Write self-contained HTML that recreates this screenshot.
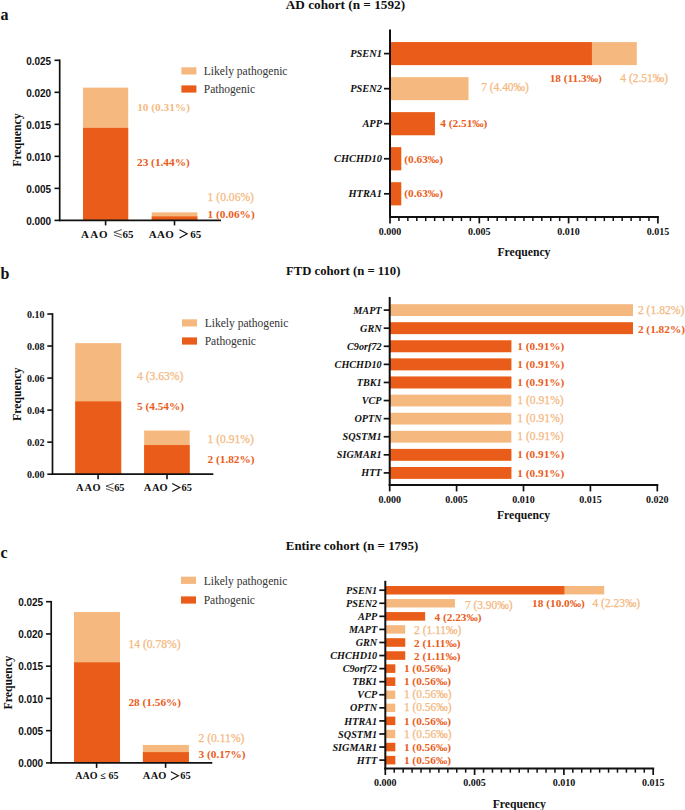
<!DOCTYPE html>
<html><head><meta charset="utf-8"><title>Figure</title>
<style>
html,body{margin:0;padding:0;background:#fff;width:685px;height:810px;overflow:hidden;}
svg{display:block;}
</style></head><body>
<svg width="685" height="810" viewBox="0 0 685 810">
<rect x="0" y="0" width="685" height="810" fill="#fff"/>
<text x="0.40" y="19.60" font-family='"Liberation Serif", serif' font-size="16" font-weight="bold" font-style="normal" text-anchor="start" fill="#111" >a</text>
<text x="0.40" y="278.70" font-family='"Liberation Serif", serif' font-size="16" font-weight="bold" font-style="normal" text-anchor="start" fill="#111" >b</text>
<text x="0.40" y="557.70" font-family='"Liberation Serif", serif' font-size="16" font-weight="bold" font-style="normal" text-anchor="start" fill="#111" >c</text>
<text x="285.70" y="9.30" font-family='"Liberation Serif", serif' font-size="13.25" font-weight="bold" font-style="normal" text-anchor="start" fill="#111" >AD cohort (n = 1592)</text>
<text x="286.00" y="274.90" font-family='"Liberation Serif", serif' font-size="12.7" font-weight="bold" font-style="normal" text-anchor="start" fill="#111" >FTD cohort (n = 110)</text>
<text x="285.80" y="550.00" font-family='"Liberation Serif", serif' font-size="12.9" font-weight="bold" font-style="normal" text-anchor="start" fill="#111" >Entire cohort (n = 1795)</text>
<rect x="83.00" y="87.65" width="45.20" height="132.75" fill="#F5B97F"/>
<rect x="83.00" y="127.88" width="45.20" height="92.52" fill="#EA5C19"/>
<rect x="151.70" y="212.35" width="45.70" height="8.05" fill="#F5B97F"/>
<rect x="151.70" y="216.38" width="45.70" height="4.02" fill="#EA5C19"/>
<line x1="59.70" y1="59.50" x2="59.70" y2="221.20" stroke="#111" stroke-width="1.7"/>
<line x1="58.90" y1="220.40" x2="221.00" y2="220.40" stroke="#111" stroke-width="1.7"/>
<line x1="54.50" y1="220.40" x2="59.70" y2="220.40" stroke="#111" stroke-width="1.6"/>
<text x="51.20" y="224.80" font-family='"Liberation Sans", sans-serif' font-size="10.0" font-weight="bold" font-style="normal" text-anchor="end" fill="#111" >0.000</text>
<line x1="54.50" y1="188.38" x2="59.70" y2="188.38" stroke="#111" stroke-width="1.6"/>
<text x="51.20" y="192.78" font-family='"Liberation Sans", sans-serif' font-size="10.0" font-weight="bold" font-style="normal" text-anchor="end" fill="#111" >0.005</text>
<line x1="54.50" y1="156.36" x2="59.70" y2="156.36" stroke="#111" stroke-width="1.6"/>
<text x="51.20" y="160.76" font-family='"Liberation Sans", sans-serif' font-size="10.0" font-weight="bold" font-style="normal" text-anchor="end" fill="#111" >0.010</text>
<line x1="54.50" y1="124.34" x2="59.70" y2="124.34" stroke="#111" stroke-width="1.6"/>
<text x="51.20" y="128.74" font-family='"Liberation Sans", sans-serif' font-size="10.0" font-weight="bold" font-style="normal" text-anchor="end" fill="#111" >0.015</text>
<line x1="54.50" y1="92.32" x2="59.70" y2="92.32" stroke="#111" stroke-width="1.6"/>
<text x="51.20" y="96.72" font-family='"Liberation Sans", sans-serif' font-size="10.0" font-weight="bold" font-style="normal" text-anchor="end" fill="#111" >0.020</text>
<line x1="54.50" y1="60.30" x2="59.70" y2="60.30" stroke="#111" stroke-width="1.6"/>
<text x="51.20" y="64.70" font-family='"Liberation Sans", sans-serif' font-size="10.0" font-weight="bold" font-style="normal" text-anchor="end" fill="#111" >0.025</text>
<line x1="105.60" y1="220.40" x2="105.60" y2="225.40" stroke="#111" stroke-width="1.6"/>
<line x1="174.50" y1="220.40" x2="174.50" y2="225.40" stroke="#111" stroke-width="1.6"/>
<text x="0" y="0" font-family='"Liberation Serif", serif' font-size="11.8" font-weight="bold" text-anchor="middle" fill="#111" transform="translate(20.80,140.00) rotate(-90)">Frequency</text>
<rect x="181.40" y="67.30" width="15.00" height="7.20" fill="#F5B97F"/>
<rect x="181.40" y="85.40" width="15.00" height="7.20" fill="#EA5C19"/>
<text x="203.80" y="74.70" font-family='"Liberation Serif", serif' font-size="11.55" font-weight="normal" font-style="normal" text-anchor="start" fill="#333" >Likely pathogenic</text>
<text x="203.80" y="92.80" font-family='"Liberation Serif", serif' font-size="11.55" font-weight="normal" font-style="normal" text-anchor="start" fill="#333" >Pathogenic</text>
<text x="137.20" y="110.80" font-family='"Liberation Serif", serif' font-size="11.3" font-weight="bold" font-style="normal" text-anchor="start" fill="#F5B97F" >10 (0.31%)</text>
<text x="137.00" y="166.00" font-family='"Liberation Serif", serif' font-size="11.3" font-weight="bold" font-style="normal" text-anchor="start" fill="#EA5C19" >23 (1.44%)</text>
<text x="207.60" y="201.00" font-family='"Liberation Serif", serif' font-size="11.600000000000001" font-weight="normal" font-style="normal" text-anchor="start" fill="#F5B97F" stroke="#F5B97F" stroke-width="0.25">1 (0.06%)</text>
<text x="207.60" y="217.50" font-family='"Liberation Serif", serif' font-size="11.3" font-weight="bold" font-style="normal" text-anchor="start" fill="#EA5C19" >1 (0.06%)</text>
<text x="0.00" y="237.80" font-family='"Liberation Serif", serif' font-size="11.0" font-weight="bold" font-style="normal" text-anchor="start" fill="#111" ><tspan x="80.89">A</tspan><tspan x="90.29">A</tspan><tspan x="98.96">O</tspan><tspan x="122.43">65</tspan></text>
<path d="M121.80,229.60 L113.90,232.24 L121.80,235.04 M113.90,234.96 L121.80,237.60" fill="none" stroke="#333" stroke-width="0.85" stroke-linecap="butt" stroke-linejoin="miter"/>
<text x="0.00" y="237.80" font-family='"Liberation Serif", serif' font-size="11.0" font-weight="bold" font-style="normal" text-anchor="start" fill="#111" ><tspan x="148.69">A</tspan><tspan x="157.09">A</tspan><tspan x="165.36">O</tspan><tspan x="190.33">65</tspan></text>
<path d="M179.50,229.70 L187.20,233.80 L179.50,237.90" fill="none" stroke="#111" stroke-width="1.15" stroke-linecap="butt" stroke-linejoin="miter"/>
<rect x="75.20" y="343.13" width="46.00" height="131.07" fill="#F5B97F"/>
<rect x="75.20" y="401.38" width="46.00" height="72.82" fill="#EA5C19"/>
<rect x="144.10" y="430.51" width="45.60" height="43.69" fill="#F5B97F"/>
<rect x="144.10" y="445.07" width="45.60" height="29.13" fill="#EA5C19"/>
<line x1="52.50" y1="313.20" x2="52.50" y2="475.00" stroke="#111" stroke-width="1.7"/>
<line x1="51.70" y1="474.20" x2="213.30" y2="474.20" stroke="#111" stroke-width="1.7"/>
<line x1="47.30" y1="474.20" x2="52.50" y2="474.20" stroke="#111" stroke-width="1.6"/>
<text x="44.60" y="478.00" font-family='"Liberation Serif", serif' font-size="10" font-weight="bold" font-style="normal" text-anchor="end" fill="#111" >0.00</text>
<line x1="47.30" y1="442.16" x2="52.50" y2="442.16" stroke="#111" stroke-width="1.6"/>
<text x="44.60" y="445.96" font-family='"Liberation Serif", serif' font-size="10" font-weight="bold" font-style="normal" text-anchor="end" fill="#111" >0.02</text>
<line x1="47.30" y1="410.12" x2="52.50" y2="410.12" stroke="#111" stroke-width="1.6"/>
<text x="44.60" y="413.92" font-family='"Liberation Serif", serif' font-size="10" font-weight="bold" font-style="normal" text-anchor="end" fill="#111" >0.04</text>
<line x1="47.30" y1="378.08" x2="52.50" y2="378.08" stroke="#111" stroke-width="1.6"/>
<text x="44.60" y="381.88" font-family='"Liberation Serif", serif' font-size="10" font-weight="bold" font-style="normal" text-anchor="end" fill="#111" >0.06</text>
<line x1="47.30" y1="346.04" x2="52.50" y2="346.04" stroke="#111" stroke-width="1.6"/>
<text x="44.60" y="349.84" font-family='"Liberation Serif", serif' font-size="10" font-weight="bold" font-style="normal" text-anchor="end" fill="#111" >0.08</text>
<line x1="47.30" y1="314.00" x2="52.50" y2="314.00" stroke="#111" stroke-width="1.6"/>
<text x="44.60" y="317.80" font-family='"Liberation Serif", serif' font-size="10" font-weight="bold" font-style="normal" text-anchor="end" fill="#111" >0.10</text>
<line x1="98.10" y1="474.20" x2="98.10" y2="479.20" stroke="#111" stroke-width="1.6"/>
<line x1="167.00" y1="474.20" x2="167.00" y2="479.20" stroke="#111" stroke-width="1.6"/>
<text x="0" y="0" font-family='"Liberation Serif", serif' font-size="11.8" font-weight="bold" text-anchor="middle" fill="#111" transform="translate(20.90,394.30) rotate(-90)">Frequency</text>
<rect x="182.00" y="319.30" width="15.00" height="7.20" fill="#F5B97F"/>
<rect x="182.00" y="337.40" width="15.00" height="7.20" fill="#EA5C19"/>
<text x="204.70" y="326.90" font-family='"Liberation Serif", serif' font-size="11.55" font-weight="normal" font-style="normal" text-anchor="start" fill="#333" >Likely pathogenic</text>
<text x="204.70" y="345.00" font-family='"Liberation Serif", serif' font-size="11.55" font-weight="normal" font-style="normal" text-anchor="start" fill="#333" >Pathogenic</text>
<text x="137.00" y="380.10" font-family='"Liberation Serif", serif' font-size="11.600000000000001" font-weight="normal" font-style="normal" text-anchor="start" fill="#F5B97F" stroke="#F5B97F" stroke-width="0.25">4 (3.63%)</text>
<text x="137.00" y="410.30" font-family='"Liberation Serif", serif' font-size="11.3" font-weight="bold" font-style="normal" text-anchor="start" fill="#EA5C19" >5 (4.54%)</text>
<text x="207.50" y="442.90" font-family='"Liberation Serif", serif' font-size="11.600000000000001" font-weight="normal" font-style="normal" text-anchor="start" fill="#F5B97F" stroke="#F5B97F" stroke-width="0.25">1 (0.91%)</text>
<text x="207.50" y="462.80" font-family='"Liberation Serif", serif' font-size="11.3" font-weight="bold" font-style="normal" text-anchor="start" fill="#EA5C19" >2 (1.82%)</text>
<text x="0.00" y="490.90" font-family='"Liberation Serif", serif' font-size="10.4" font-weight="bold" font-style="normal" text-anchor="start" fill="#111" ><tspan x="76.00">A</tspan><tspan x="84.60">A</tspan><tspan x="92.59">O</tspan><tspan x="114.15">65</tspan></text>
<path d="M113.60,483.50 L106.00,486.07 L113.60,488.80 M106.00,488.73 L113.60,491.30" fill="none" stroke="#333" stroke-width="0.85" stroke-linecap="butt" stroke-linejoin="miter"/>
<text x="0.00" y="490.90" font-family='"Liberation Serif", serif' font-size="10.4" font-weight="bold" font-style="normal" text-anchor="start" fill="#111" ><tspan x="143.70">A</tspan><tspan x="151.90">A</tspan><tspan x="159.39">O</tspan><tspan x="181.55">65</tspan></text>
<path d="M172.20,483.50 L179.80,487.50 L172.20,491.50" fill="none" stroke="#111" stroke-width="1.15" stroke-linecap="butt" stroke-linejoin="miter"/>
<rect x="74.00" y="612.03" width="46.00" height="150.87" fill="#F5B97F"/>
<rect x="74.00" y="662.32" width="46.00" height="100.58" fill="#EA5C19"/>
<rect x="142.90" y="744.94" width="46.00" height="17.96" fill="#F5B97F"/>
<rect x="142.90" y="752.12" width="46.00" height="10.78" fill="#EA5C19"/>
<line x1="51.20" y1="600.90" x2="51.20" y2="763.70" stroke="#111" stroke-width="1.7"/>
<line x1="50.40" y1="762.90" x2="212.30" y2="762.90" stroke="#111" stroke-width="1.7"/>
<line x1="46.00" y1="762.90" x2="51.20" y2="762.90" stroke="#111" stroke-width="1.6"/>
<text x="43.20" y="767.20" font-family='"Liberation Sans", sans-serif' font-size="10.0" font-weight="bold" font-style="normal" text-anchor="end" fill="#111" >0.000</text>
<line x1="46.00" y1="730.66" x2="51.20" y2="730.66" stroke="#111" stroke-width="1.6"/>
<text x="43.20" y="734.96" font-family='"Liberation Sans", sans-serif' font-size="10.0" font-weight="bold" font-style="normal" text-anchor="end" fill="#111" >0.005</text>
<line x1="46.00" y1="698.42" x2="51.20" y2="698.42" stroke="#111" stroke-width="1.6"/>
<text x="43.20" y="702.72" font-family='"Liberation Sans", sans-serif' font-size="10.0" font-weight="bold" font-style="normal" text-anchor="end" fill="#111" >0.010</text>
<line x1="46.00" y1="666.18" x2="51.20" y2="666.18" stroke="#111" stroke-width="1.6"/>
<text x="43.20" y="670.48" font-family='"Liberation Sans", sans-serif' font-size="10.0" font-weight="bold" font-style="normal" text-anchor="end" fill="#111" >0.015</text>
<line x1="46.00" y1="633.94" x2="51.20" y2="633.94" stroke="#111" stroke-width="1.6"/>
<text x="43.20" y="638.24" font-family='"Liberation Sans", sans-serif' font-size="10.0" font-weight="bold" font-style="normal" text-anchor="end" fill="#111" >0.020</text>
<line x1="46.00" y1="601.70" x2="51.20" y2="601.70" stroke="#111" stroke-width="1.6"/>
<text x="43.20" y="606.00" font-family='"Liberation Sans", sans-serif' font-size="10.0" font-weight="bold" font-style="normal" text-anchor="end" fill="#111" >0.025</text>
<line x1="96.60" y1="762.90" x2="96.60" y2="767.90" stroke="#111" stroke-width="1.6"/>
<line x1="165.60" y1="762.90" x2="165.60" y2="767.90" stroke="#111" stroke-width="1.6"/>
<text x="0" y="0" font-family='"Liberation Serif", serif' font-size="11.8" font-weight="bold" text-anchor="middle" fill="#111" transform="translate(11.50,682.70) rotate(-90)">Frequency</text>
<rect x="181.00" y="576.70" width="15.00" height="7.20" fill="#F5B97F"/>
<rect x="181.00" y="596.40" width="15.00" height="7.20" fill="#EA5C19"/>
<text x="203.70" y="584.70" font-family='"Liberation Serif", serif' font-size="11.55" font-weight="normal" font-style="normal" text-anchor="start" fill="#333" >Likely pathogenic</text>
<text x="203.70" y="604.40" font-family='"Liberation Serif", serif' font-size="11.55" font-weight="normal" font-style="normal" text-anchor="start" fill="#333" >Pathogenic</text>
<text x="128.40" y="648.30" font-family='"Liberation Serif", serif' font-size="11.600000000000001" font-weight="normal" font-style="normal" text-anchor="start" fill="#F5B97F" stroke="#F5B97F" stroke-width="0.25">14 (0.78%)</text>
<text x="128.40" y="706.00" font-family='"Liberation Serif", serif' font-size="11.3" font-weight="bold" font-style="normal" text-anchor="start" fill="#EA5C19" >28 (1.56%)</text>
<text x="198.50" y="742.40" font-family='"Liberation Serif", serif' font-size="11.600000000000001" font-weight="normal" font-style="normal" text-anchor="start" fill="#F5B97F" stroke="#F5B97F" stroke-width="0.25">2 (0.11%)</text>
<text x="198.50" y="757.90" font-family='"Liberation Serif", serif' font-size="11.3" font-weight="bold" font-style="normal" text-anchor="start" fill="#EA5C19" >3 (0.17%)</text>
<text x="75.30" y="778.90" font-family='"Liberation Serif", serif' font-size="10.0" font-weight="bold" font-style="normal" text-anchor="start" fill="#111" >AAO</text>
<text x="100.30" y="778.90" font-family='"Liberation Serif", serif' font-size="10.0" font-weight="bold" font-style="normal" text-anchor="start" fill="#111" >≤</text>
<text x="108.40" y="778.90" font-family='"Liberation Serif", serif' font-size="10.0" font-weight="bold" font-style="normal" text-anchor="start" fill="#111" >65</text>
<text x="0.00" y="779.00" font-family='"Liberation Serif", serif' font-size="10.4" font-weight="bold" font-style="normal" text-anchor="start" fill="#111" ><tspan x="142.80">A</tspan><tspan x="150.70">A</tspan><tspan x="158.19">O</tspan><tspan x="180.35">65</tspan></text>
<path d="M170.90,771.80 L178.40,775.80 L170.90,779.80" fill="none" stroke="#111" stroke-width="1.15" stroke-linecap="butt" stroke-linejoin="miter"/>
<rect x="390.00" y="42.10" width="246.81" height="23.00" fill="#F5B97F"/>
<rect x="390.00" y="42.10" width="201.93" height="23.00" fill="#EA5C19"/>
<line x1="384.00" y1="53.60" x2="390.00" y2="53.60" stroke="#111" stroke-width="1.7"/>
<text x="382.00" y="57.10" font-family='"Liberation Serif", serif' font-size="10.4" font-weight="bold" font-style="italic" text-anchor="end" fill="#111" >PSEN1</text>
<text x="549.70" y="82.00" font-family='"Liberation Serif", serif' font-size="11.3" font-weight="bold" font-style="normal" text-anchor="start" fill="#EA5C19" >18 (11.3‰)</text>
<text x="620.30" y="82.00" font-family='"Liberation Serif", serif' font-size="11.450000000000001" font-weight="normal" font-style="normal" text-anchor="start" fill="#F5B97F" stroke="#F5B97F" stroke-width="0.25">4 (2.51‰)</text>
<rect x="390.00" y="77.15" width="78.53" height="23.00" fill="#F5B97F"/>
<line x1="384.00" y1="88.65" x2="390.00" y2="88.65" stroke="#111" stroke-width="1.7"/>
<text x="382.00" y="92.15" font-family='"Liberation Serif", serif' font-size="10.4" font-weight="bold" font-style="italic" text-anchor="end" fill="#111" >PSEN2</text>
<text x="481.20" y="91.45" font-family='"Liberation Serif", serif' font-size="11.450000000000001" font-weight="normal" font-style="normal" text-anchor="start" fill="#F5B97F" stroke="#F5B97F" stroke-width="0.25">7 (4.40‰)</text>
<rect x="390.00" y="112.20" width="44.87" height="23.00" fill="#F5B97F"/>
<rect x="390.00" y="112.20" width="44.87" height="23.00" fill="#EA5C19"/>
<line x1="384.00" y1="123.70" x2="390.00" y2="123.70" stroke="#111" stroke-width="1.7"/>
<text x="382.00" y="127.20" font-family='"Liberation Serif", serif' font-size="10.4" font-weight="bold" font-style="italic" text-anchor="end" fill="#111" >APP</text>
<text x="440.30" y="127.20" font-family='"Liberation Serif", serif' font-size="11.3" font-weight="bold" font-style="normal" text-anchor="start" fill="#EA5C19" >4 (2.51‰)</text>
<rect x="390.00" y="147.25" width="11.22" height="23.00" fill="#F5B97F"/>
<rect x="390.00" y="147.25" width="11.22" height="23.00" fill="#EA5C19"/>
<line x1="384.00" y1="158.75" x2="390.00" y2="158.75" stroke="#111" stroke-width="1.7"/>
<text x="382.00" y="162.25" font-family='"Liberation Serif", serif' font-size="10.4" font-weight="bold" font-style="italic" text-anchor="end" fill="#111" >CHCHD10</text>
<text x="404.30" y="162.55" font-family='"Liberation Serif", serif' font-size="11.3" font-weight="bold" font-style="normal" text-anchor="start" fill="#EA5C19" >(0.63‰)</text>
<rect x="390.00" y="182.30" width="11.22" height="23.00" fill="#F5B97F"/>
<rect x="390.00" y="182.30" width="11.22" height="23.00" fill="#EA5C19"/>
<line x1="384.00" y1="193.80" x2="390.00" y2="193.80" stroke="#111" stroke-width="1.7"/>
<text x="382.00" y="197.30" font-family='"Liberation Serif", serif' font-size="10.4" font-weight="bold" font-style="italic" text-anchor="end" fill="#111" >HTRA1</text>
<text x="404.30" y="197.30" font-family='"Liberation Serif", serif' font-size="11.3" font-weight="bold" font-style="normal" text-anchor="start" fill="#EA5C19" >(0.63‰)</text>
<line x1="390.00" y1="29.50" x2="390.00" y2="217.90" stroke="#111" stroke-width="2.0"/>
<line x1="389.00" y1="216.90" x2="658.90" y2="216.90" stroke="#111" stroke-width="2.0"/>
<line x1="390.00" y1="216.90" x2="390.00" y2="223.40" stroke="#111" stroke-width="1.7"/>
<text x="390.00" y="235.20" font-family='"Liberation Serif", serif' font-size="10" font-weight="bold" font-style="normal" text-anchor="middle" fill="#111" >0.000</text>
<line x1="479.30" y1="216.90" x2="479.30" y2="223.40" stroke="#111" stroke-width="1.7"/>
<text x="479.30" y="235.20" font-family='"Liberation Serif", serif' font-size="10" font-weight="bold" font-style="normal" text-anchor="middle" fill="#111" >0.005</text>
<line x1="568.60" y1="216.90" x2="568.60" y2="223.40" stroke="#111" stroke-width="1.7"/>
<text x="568.60" y="235.20" font-family='"Liberation Serif", serif' font-size="10" font-weight="bold" font-style="normal" text-anchor="middle" fill="#111" >0.010</text>
<line x1="657.90" y1="216.90" x2="657.90" y2="223.40" stroke="#111" stroke-width="1.7"/>
<text x="657.90" y="235.20" font-family='"Liberation Serif", serif' font-size="10" font-weight="bold" font-style="normal" text-anchor="middle" fill="#111" >0.015</text>
<line x1="398.93" y1="216.90" x2="398.93" y2="221.10" stroke="#111" stroke-width="1.5"/>
<line x1="407.86" y1="216.90" x2="407.86" y2="221.10" stroke="#111" stroke-width="1.5"/>
<line x1="416.79" y1="216.90" x2="416.79" y2="221.10" stroke="#111" stroke-width="1.5"/>
<line x1="425.72" y1="216.90" x2="425.72" y2="221.10" stroke="#111" stroke-width="1.5"/>
<line x1="434.65" y1="216.90" x2="434.65" y2="221.10" stroke="#111" stroke-width="1.5"/>
<line x1="443.58" y1="216.90" x2="443.58" y2="221.10" stroke="#111" stroke-width="1.5"/>
<line x1="452.51" y1="216.90" x2="452.51" y2="221.10" stroke="#111" stroke-width="1.5"/>
<line x1="461.44" y1="216.90" x2="461.44" y2="221.10" stroke="#111" stroke-width="1.5"/>
<line x1="470.37" y1="216.90" x2="470.37" y2="221.10" stroke="#111" stroke-width="1.5"/>
<line x1="488.23" y1="216.90" x2="488.23" y2="221.10" stroke="#111" stroke-width="1.5"/>
<line x1="497.16" y1="216.90" x2="497.16" y2="221.10" stroke="#111" stroke-width="1.5"/>
<line x1="506.09" y1="216.90" x2="506.09" y2="221.10" stroke="#111" stroke-width="1.5"/>
<line x1="515.02" y1="216.90" x2="515.02" y2="221.10" stroke="#111" stroke-width="1.5"/>
<line x1="523.95" y1="216.90" x2="523.95" y2="221.10" stroke="#111" stroke-width="1.5"/>
<line x1="532.88" y1="216.90" x2="532.88" y2="221.10" stroke="#111" stroke-width="1.5"/>
<line x1="541.81" y1="216.90" x2="541.81" y2="221.10" stroke="#111" stroke-width="1.5"/>
<line x1="550.74" y1="216.90" x2="550.74" y2="221.10" stroke="#111" stroke-width="1.5"/>
<line x1="559.67" y1="216.90" x2="559.67" y2="221.10" stroke="#111" stroke-width="1.5"/>
<line x1="577.53" y1="216.90" x2="577.53" y2="221.10" stroke="#111" stroke-width="1.5"/>
<line x1="586.46" y1="216.90" x2="586.46" y2="221.10" stroke="#111" stroke-width="1.5"/>
<line x1="595.39" y1="216.90" x2="595.39" y2="221.10" stroke="#111" stroke-width="1.5"/>
<line x1="604.32" y1="216.90" x2="604.32" y2="221.10" stroke="#111" stroke-width="1.5"/>
<line x1="613.25" y1="216.90" x2="613.25" y2="221.10" stroke="#111" stroke-width="1.5"/>
<line x1="622.18" y1="216.90" x2="622.18" y2="221.10" stroke="#111" stroke-width="1.5"/>
<line x1="631.11" y1="216.90" x2="631.11" y2="221.10" stroke="#111" stroke-width="1.5"/>
<line x1="640.04" y1="216.90" x2="640.04" y2="221.10" stroke="#111" stroke-width="1.5"/>
<line x1="648.97" y1="216.90" x2="648.97" y2="221.10" stroke="#111" stroke-width="1.5"/>
<text x="523.95" y="255.80" font-family='"Liberation Serif", serif' font-size="11.7" font-weight="bold" font-style="normal" text-anchor="middle" fill="#111" >Frequency</text>
<rect x="389.70" y="304.20" width="243.27" height="11.80" fill="#F5B97F"/>
<line x1="383.70" y1="310.10" x2="389.70" y2="310.10" stroke="#111" stroke-width="1.7"/>
<text x="381.60" y="313.60" font-family='"Liberation Serif", serif' font-size="10.2" font-weight="bold" font-style="italic" text-anchor="end" fill="#111" >MAPT</text>
<text x="637.90" y="314.20" font-family='"Liberation Serif", serif' font-size="11.600000000000001" font-weight="normal" font-style="normal" text-anchor="start" fill="#F5B97F" stroke="#F5B97F" stroke-width="0.25">2 (1.82%)</text>
<rect x="389.70" y="322.29" width="243.27" height="11.80" fill="#F5B97F"/>
<rect x="389.70" y="322.29" width="243.27" height="11.80" fill="#EA5C19"/>
<line x1="383.70" y1="328.19" x2="389.70" y2="328.19" stroke="#111" stroke-width="1.7"/>
<text x="381.60" y="331.69" font-family='"Liberation Serif", serif' font-size="10.2" font-weight="bold" font-style="italic" text-anchor="end" fill="#111" >GRN</text>
<text x="637.90" y="332.69" font-family='"Liberation Serif", serif' font-size="11.3" font-weight="bold" font-style="normal" text-anchor="start" fill="#EA5C19" >2 (1.82%)</text>
<rect x="389.70" y="340.38" width="121.64" height="11.80" fill="#F5B97F"/>
<rect x="389.70" y="340.38" width="121.64" height="11.80" fill="#EA5C19"/>
<line x1="383.70" y1="346.28" x2="389.70" y2="346.28" stroke="#111" stroke-width="1.7"/>
<text x="381.60" y="349.78" font-family='"Liberation Serif", serif' font-size="10.2" font-weight="bold" font-style="italic" text-anchor="end" fill="#111" >C9orf72</text>
<text x="517.30" y="349.88" font-family='"Liberation Serif", serif' font-size="11.3" font-weight="bold" font-style="normal" text-anchor="start" fill="#EA5C19" >1 (0.91%)</text>
<rect x="389.70" y="358.47" width="121.64" height="11.80" fill="#F5B97F"/>
<rect x="389.70" y="358.47" width="121.64" height="11.80" fill="#EA5C19"/>
<line x1="383.70" y1="364.37" x2="389.70" y2="364.37" stroke="#111" stroke-width="1.7"/>
<text x="381.60" y="367.87" font-family='"Liberation Serif", serif' font-size="10.2" font-weight="bold" font-style="italic" text-anchor="end" fill="#111" >CHCHD10</text>
<text x="517.30" y="367.97" font-family='"Liberation Serif", serif' font-size="11.3" font-weight="bold" font-style="normal" text-anchor="start" fill="#EA5C19" >1 (0.91%)</text>
<rect x="389.70" y="376.56" width="121.64" height="11.80" fill="#F5B97F"/>
<rect x="389.70" y="376.56" width="121.64" height="11.80" fill="#EA5C19"/>
<line x1="383.70" y1="382.46" x2="389.70" y2="382.46" stroke="#111" stroke-width="1.7"/>
<text x="381.60" y="385.96" font-family='"Liberation Serif", serif' font-size="10.2" font-weight="bold" font-style="italic" text-anchor="end" fill="#111" >TBK1</text>
<text x="517.30" y="386.06" font-family='"Liberation Serif", serif' font-size="11.3" font-weight="bold" font-style="normal" text-anchor="start" fill="#EA5C19" >1 (0.91%)</text>
<rect x="389.70" y="394.65" width="121.64" height="11.80" fill="#F5B97F"/>
<line x1="383.70" y1="400.55" x2="389.70" y2="400.55" stroke="#111" stroke-width="1.7"/>
<text x="381.60" y="404.05" font-family='"Liberation Serif", serif' font-size="10.2" font-weight="bold" font-style="italic" text-anchor="end" fill="#111" >VCP</text>
<text x="517.30" y="404.15" font-family='"Liberation Serif", serif' font-size="11.600000000000001" font-weight="normal" font-style="normal" text-anchor="start" fill="#F5B97F" stroke="#F5B97F" stroke-width="0.25">1 (0.91%)</text>
<rect x="389.70" y="412.74" width="121.64" height="11.80" fill="#F5B97F"/>
<line x1="383.70" y1="418.64" x2="389.70" y2="418.64" stroke="#111" stroke-width="1.7"/>
<text x="381.60" y="422.14" font-family='"Liberation Serif", serif' font-size="10.2" font-weight="bold" font-style="italic" text-anchor="end" fill="#111" >OPTN</text>
<text x="517.30" y="422.24" font-family='"Liberation Serif", serif' font-size="11.600000000000001" font-weight="normal" font-style="normal" text-anchor="start" fill="#F5B97F" stroke="#F5B97F" stroke-width="0.25">1 (0.91%)</text>
<rect x="389.70" y="430.83" width="121.64" height="11.80" fill="#F5B97F"/>
<line x1="383.70" y1="436.73" x2="389.70" y2="436.73" stroke="#111" stroke-width="1.7"/>
<text x="381.60" y="440.23" font-family='"Liberation Serif", serif' font-size="10.2" font-weight="bold" font-style="italic" text-anchor="end" fill="#111" >SQSTM1</text>
<text x="517.30" y="440.33" font-family='"Liberation Serif", serif' font-size="11.600000000000001" font-weight="normal" font-style="normal" text-anchor="start" fill="#F5B97F" stroke="#F5B97F" stroke-width="0.25">1 (0.91%)</text>
<rect x="389.70" y="448.92" width="121.64" height="11.80" fill="#F5B97F"/>
<rect x="389.70" y="448.92" width="121.64" height="11.80" fill="#EA5C19"/>
<line x1="383.70" y1="454.82" x2="389.70" y2="454.82" stroke="#111" stroke-width="1.7"/>
<text x="381.60" y="458.32" font-family='"Liberation Serif", serif' font-size="10.2" font-weight="bold" font-style="italic" text-anchor="end" fill="#111" >SIGMAR1</text>
<text x="517.30" y="458.42" font-family='"Liberation Serif", serif' font-size="11.3" font-weight="bold" font-style="normal" text-anchor="start" fill="#EA5C19" >1 (0.91%)</text>
<rect x="389.70" y="467.01" width="121.64" height="11.80" fill="#F5B97F"/>
<rect x="389.70" y="467.01" width="121.64" height="11.80" fill="#EA5C19"/>
<line x1="383.70" y1="472.91" x2="389.70" y2="472.91" stroke="#111" stroke-width="1.7"/>
<text x="381.60" y="476.41" font-family='"Liberation Serif", serif' font-size="10.2" font-weight="bold" font-style="italic" text-anchor="end" fill="#111" >HTT</text>
<text x="517.30" y="476.51" font-family='"Liberation Serif", serif' font-size="11.3" font-weight="bold" font-style="normal" text-anchor="start" fill="#EA5C19" >1 (0.91%)</text>
<line x1="389.70" y1="297.00" x2="389.70" y2="485.90" stroke="#111" stroke-width="2.0"/>
<line x1="388.70" y1="484.90" x2="658.30" y2="484.90" stroke="#111" stroke-width="2.0"/>
<line x1="389.70" y1="484.90" x2="389.70" y2="491.40" stroke="#111" stroke-width="1.7"/>
<text x="389.70" y="502.50" font-family='"Liberation Serif", serif' font-size="10" font-weight="bold" font-style="normal" text-anchor="middle" fill="#111" >0.000</text>
<line x1="456.60" y1="484.90" x2="456.60" y2="491.40" stroke="#111" stroke-width="1.7"/>
<text x="456.60" y="502.50" font-family='"Liberation Serif", serif' font-size="10" font-weight="bold" font-style="normal" text-anchor="middle" fill="#111" >0.005</text>
<line x1="523.50" y1="484.90" x2="523.50" y2="491.40" stroke="#111" stroke-width="1.7"/>
<text x="523.50" y="502.50" font-family='"Liberation Serif", serif' font-size="10" font-weight="bold" font-style="normal" text-anchor="middle" fill="#111" >0.010</text>
<line x1="590.40" y1="484.90" x2="590.40" y2="491.40" stroke="#111" stroke-width="1.7"/>
<text x="590.40" y="502.50" font-family='"Liberation Serif", serif' font-size="10" font-weight="bold" font-style="normal" text-anchor="middle" fill="#111" >0.015</text>
<line x1="657.30" y1="484.90" x2="657.30" y2="491.40" stroke="#111" stroke-width="1.7"/>
<text x="657.30" y="502.50" font-family='"Liberation Serif", serif' font-size="10" font-weight="bold" font-style="normal" text-anchor="middle" fill="#111" >0.020</text>
<text x="523.50" y="518.90" font-family='"Liberation Serif", serif' font-size="11.7" font-weight="bold" font-style="normal" text-anchor="middle" fill="#111" >Frequency</text>
<rect x="385.30" y="586.00" width="218.90" height="8.40" fill="#F5B97F"/>
<rect x="385.30" y="586.00" width="179.10" height="8.40" fill="#EA5C19"/>
<line x1="379.30" y1="590.20" x2="385.30" y2="590.20" stroke="#111" stroke-width="1.7"/>
<text x="377.20" y="593.80" font-family='"Liberation Serif", serif' font-size="10.2" font-weight="bold" font-style="italic" text-anchor="end" fill="#111" >PSEN1</text>
<text x="532.10" y="607.40" font-family='"Liberation Serif", serif' font-size="11.3" font-weight="bold" font-style="normal" text-anchor="start" fill="#EA5C19" >18 (10.0‰)</text>
<text x="592.50" y="607.40" font-family='"Liberation Serif", serif' font-size="11.450000000000001" font-weight="normal" font-style="normal" text-anchor="start" fill="#F5B97F" stroke="#F5B97F" stroke-width="0.25">4 (2.23‰)</text>
<rect x="385.30" y="599.07" width="69.65" height="8.40" fill="#F5B97F"/>
<line x1="379.30" y1="603.27" x2="385.30" y2="603.27" stroke="#111" stroke-width="1.7"/>
<text x="377.20" y="606.87" font-family='"Liberation Serif", serif' font-size="10.2" font-weight="bold" font-style="italic" text-anchor="end" fill="#111" >PSEN2</text>
<text x="464.90" y="608.97" font-family='"Liberation Serif", serif' font-size="11.450000000000001" font-weight="normal" font-style="normal" text-anchor="start" fill="#F5B97F" stroke="#F5B97F" stroke-width="0.25">7 (3.90‰)</text>
<rect x="385.30" y="612.14" width="39.80" height="8.40" fill="#F5B97F"/>
<rect x="385.30" y="612.14" width="39.80" height="8.40" fill="#EA5C19"/>
<line x1="379.30" y1="616.34" x2="385.30" y2="616.34" stroke="#111" stroke-width="1.7"/>
<text x="377.20" y="619.94" font-family='"Liberation Serif", serif' font-size="10.2" font-weight="bold" font-style="italic" text-anchor="end" fill="#111" >APP</text>
<text x="434.50" y="621.04" font-family='"Liberation Serif", serif' font-size="11.3" font-weight="bold" font-style="normal" text-anchor="start" fill="#EA5C19" >4 (2.23‰)</text>
<rect x="385.30" y="625.21" width="19.90" height="8.40" fill="#F5B97F"/>
<line x1="379.30" y1="629.41" x2="385.30" y2="629.41" stroke="#111" stroke-width="1.7"/>
<text x="377.20" y="633.01" font-family='"Liberation Serif", serif' font-size="10.2" font-weight="bold" font-style="italic" text-anchor="end" fill="#111" >MAPT</text>
<text x="414.10" y="633.61" font-family='"Liberation Serif", serif' font-size="11.450000000000001" font-weight="normal" font-style="normal" text-anchor="start" fill="#F5B97F" stroke="#F5B97F" stroke-width="0.25">2 (1.11‰)</text>
<rect x="385.30" y="638.28" width="19.90" height="8.40" fill="#F5B97F"/>
<rect x="385.30" y="638.28" width="19.90" height="8.40" fill="#EA5C19"/>
<line x1="379.30" y1="642.48" x2="385.30" y2="642.48" stroke="#111" stroke-width="1.7"/>
<text x="377.20" y="646.08" font-family='"Liberation Serif", serif' font-size="10.2" font-weight="bold" font-style="italic" text-anchor="end" fill="#111" >GRN</text>
<text x="414.10" y="646.68" font-family='"Liberation Serif", serif' font-size="11.3" font-weight="bold" font-style="normal" text-anchor="start" fill="#EA5C19" >2 (1.11‰)</text>
<rect x="385.30" y="651.35" width="19.90" height="8.40" fill="#F5B97F"/>
<rect x="385.30" y="651.35" width="19.90" height="8.40" fill="#EA5C19"/>
<line x1="379.30" y1="655.55" x2="385.30" y2="655.55" stroke="#111" stroke-width="1.7"/>
<text x="377.20" y="659.15" font-family='"Liberation Serif", serif' font-size="10.2" font-weight="bold" font-style="italic" text-anchor="end" fill="#111" >CHCHD10</text>
<text x="414.10" y="659.75" font-family='"Liberation Serif", serif' font-size="11.3" font-weight="bold" font-style="normal" text-anchor="start" fill="#EA5C19" >2 (1.11‰)</text>
<rect x="385.30" y="664.42" width="9.95" height="8.40" fill="#F5B97F"/>
<rect x="385.30" y="664.42" width="9.95" height="8.40" fill="#EA5C19"/>
<line x1="379.30" y1="668.62" x2="385.30" y2="668.62" stroke="#111" stroke-width="1.7"/>
<text x="377.20" y="672.22" font-family='"Liberation Serif", serif' font-size="10.2" font-weight="bold" font-style="italic" text-anchor="end" fill="#111" >C9orf72</text>
<text x="403.90" y="672.22" font-family='"Liberation Serif", serif' font-size="11.3" font-weight="bold" font-style="normal" text-anchor="start" fill="#EA5C19" >1 (0.56‰)</text>
<rect x="385.30" y="677.49" width="9.95" height="8.40" fill="#F5B97F"/>
<rect x="385.30" y="677.49" width="9.95" height="8.40" fill="#EA5C19"/>
<line x1="379.30" y1="681.69" x2="385.30" y2="681.69" stroke="#111" stroke-width="1.7"/>
<text x="377.20" y="685.29" font-family='"Liberation Serif", serif' font-size="10.2" font-weight="bold" font-style="italic" text-anchor="end" fill="#111" >TBK1</text>
<text x="403.90" y="685.29" font-family='"Liberation Serif", serif' font-size="11.3" font-weight="bold" font-style="normal" text-anchor="start" fill="#EA5C19" >1 (0.56‰)</text>
<rect x="385.30" y="690.56" width="9.95" height="8.40" fill="#F5B97F"/>
<line x1="379.30" y1="694.76" x2="385.30" y2="694.76" stroke="#111" stroke-width="1.7"/>
<text x="377.20" y="698.36" font-family='"Liberation Serif", serif' font-size="10.2" font-weight="bold" font-style="italic" text-anchor="end" fill="#111" >VCP</text>
<text x="403.90" y="698.36" font-family='"Liberation Serif", serif' font-size="11.450000000000001" font-weight="normal" font-style="normal" text-anchor="start" fill="#F5B97F" stroke="#F5B97F" stroke-width="0.25">1 (0.56‰)</text>
<rect x="385.30" y="703.63" width="9.95" height="8.40" fill="#F5B97F"/>
<line x1="379.30" y1="707.83" x2="385.30" y2="707.83" stroke="#111" stroke-width="1.7"/>
<text x="377.20" y="711.43" font-family='"Liberation Serif", serif' font-size="10.2" font-weight="bold" font-style="italic" text-anchor="end" fill="#111" >OPTN</text>
<text x="403.90" y="711.43" font-family='"Liberation Serif", serif' font-size="11.450000000000001" font-weight="normal" font-style="normal" text-anchor="start" fill="#F5B97F" stroke="#F5B97F" stroke-width="0.25">1 (0.56‰)</text>
<rect x="385.30" y="716.70" width="9.95" height="8.40" fill="#F5B97F"/>
<rect x="385.30" y="716.70" width="9.95" height="8.40" fill="#EA5C19"/>
<line x1="379.30" y1="720.90" x2="385.30" y2="720.90" stroke="#111" stroke-width="1.7"/>
<text x="377.20" y="724.50" font-family='"Liberation Serif", serif' font-size="10.2" font-weight="bold" font-style="italic" text-anchor="end" fill="#111" >HTRA1</text>
<text x="403.90" y="724.50" font-family='"Liberation Serif", serif' font-size="11.3" font-weight="bold" font-style="normal" text-anchor="start" fill="#EA5C19" >1 (0.56‰)</text>
<rect x="385.30" y="729.77" width="9.95" height="8.40" fill="#F5B97F"/>
<line x1="379.30" y1="733.97" x2="385.30" y2="733.97" stroke="#111" stroke-width="1.7"/>
<text x="377.20" y="737.57" font-family='"Liberation Serif", serif' font-size="10.2" font-weight="bold" font-style="italic" text-anchor="end" fill="#111" >SQSTM1</text>
<text x="403.90" y="737.57" font-family='"Liberation Serif", serif' font-size="11.450000000000001" font-weight="normal" font-style="normal" text-anchor="start" fill="#F5B97F" stroke="#F5B97F" stroke-width="0.25">1 (0.56‰)</text>
<rect x="385.30" y="742.84" width="9.95" height="8.40" fill="#F5B97F"/>
<rect x="385.30" y="742.84" width="9.95" height="8.40" fill="#EA5C19"/>
<line x1="379.30" y1="747.04" x2="385.30" y2="747.04" stroke="#111" stroke-width="1.7"/>
<text x="377.20" y="750.64" font-family='"Liberation Serif", serif' font-size="10.2" font-weight="bold" font-style="italic" text-anchor="end" fill="#111" >SIGMAR1</text>
<text x="403.90" y="750.64" font-family='"Liberation Serif", serif' font-size="11.3" font-weight="bold" font-style="normal" text-anchor="start" fill="#EA5C19" >1 (0.56‰)</text>
<rect x="385.30" y="755.91" width="9.95" height="8.40" fill="#F5B97F"/>
<rect x="385.30" y="755.91" width="9.95" height="8.40" fill="#EA5C19"/>
<line x1="379.30" y1="760.11" x2="385.30" y2="760.11" stroke="#111" stroke-width="1.7"/>
<text x="377.20" y="763.71" font-family='"Liberation Serif", serif' font-size="10.2" font-weight="bold" font-style="italic" text-anchor="end" fill="#111" >HTT</text>
<text x="403.90" y="763.71" font-family='"Liberation Serif", serif' font-size="11.3" font-weight="bold" font-style="normal" text-anchor="start" fill="#EA5C19" >1 (0.56‰)</text>
<line x1="385.30" y1="580.80" x2="385.30" y2="769.50" stroke="#111" stroke-width="2.0"/>
<line x1="384.30" y1="768.50" x2="654.20" y2="768.50" stroke="#111" stroke-width="2.0"/>
<line x1="385.30" y1="768.50" x2="385.30" y2="775.00" stroke="#111" stroke-width="1.7"/>
<text x="385.30" y="786.40" font-family='"Liberation Serif", serif' font-size="10" font-weight="bold" font-style="normal" text-anchor="middle" fill="#111" >0.000</text>
<line x1="474.60" y1="768.50" x2="474.60" y2="775.00" stroke="#111" stroke-width="1.7"/>
<text x="474.60" y="786.40" font-family='"Liberation Serif", serif' font-size="10" font-weight="bold" font-style="normal" text-anchor="middle" fill="#111" >0.005</text>
<line x1="563.90" y1="768.50" x2="563.90" y2="775.00" stroke="#111" stroke-width="1.7"/>
<text x="563.90" y="786.40" font-family='"Liberation Serif", serif' font-size="10" font-weight="bold" font-style="normal" text-anchor="middle" fill="#111" >0.010</text>
<line x1="653.20" y1="768.50" x2="653.20" y2="775.00" stroke="#111" stroke-width="1.7"/>
<text x="653.20" y="786.40" font-family='"Liberation Serif", serif' font-size="10" font-weight="bold" font-style="normal" text-anchor="middle" fill="#111" >0.015</text>
<line x1="394.23" y1="768.50" x2="394.23" y2="772.70" stroke="#111" stroke-width="1.5"/>
<line x1="403.16" y1="768.50" x2="403.16" y2="772.70" stroke="#111" stroke-width="1.5"/>
<line x1="412.09" y1="768.50" x2="412.09" y2="772.70" stroke="#111" stroke-width="1.5"/>
<line x1="421.02" y1="768.50" x2="421.02" y2="772.70" stroke="#111" stroke-width="1.5"/>
<line x1="429.95" y1="768.50" x2="429.95" y2="772.70" stroke="#111" stroke-width="1.5"/>
<line x1="438.88" y1="768.50" x2="438.88" y2="772.70" stroke="#111" stroke-width="1.5"/>
<line x1="447.81" y1="768.50" x2="447.81" y2="772.70" stroke="#111" stroke-width="1.5"/>
<line x1="456.74" y1="768.50" x2="456.74" y2="772.70" stroke="#111" stroke-width="1.5"/>
<line x1="465.67" y1="768.50" x2="465.67" y2="772.70" stroke="#111" stroke-width="1.5"/>
<line x1="483.53" y1="768.50" x2="483.53" y2="772.70" stroke="#111" stroke-width="1.5"/>
<line x1="492.46" y1="768.50" x2="492.46" y2="772.70" stroke="#111" stroke-width="1.5"/>
<line x1="501.39" y1="768.50" x2="501.39" y2="772.70" stroke="#111" stroke-width="1.5"/>
<line x1="510.32" y1="768.50" x2="510.32" y2="772.70" stroke="#111" stroke-width="1.5"/>
<line x1="519.25" y1="768.50" x2="519.25" y2="772.70" stroke="#111" stroke-width="1.5"/>
<line x1="528.18" y1="768.50" x2="528.18" y2="772.70" stroke="#111" stroke-width="1.5"/>
<line x1="537.11" y1="768.50" x2="537.11" y2="772.70" stroke="#111" stroke-width="1.5"/>
<line x1="546.04" y1="768.50" x2="546.04" y2="772.70" stroke="#111" stroke-width="1.5"/>
<line x1="554.97" y1="768.50" x2="554.97" y2="772.70" stroke="#111" stroke-width="1.5"/>
<line x1="572.83" y1="768.50" x2="572.83" y2="772.70" stroke="#111" stroke-width="1.5"/>
<line x1="581.76" y1="768.50" x2="581.76" y2="772.70" stroke="#111" stroke-width="1.5"/>
<line x1="590.69" y1="768.50" x2="590.69" y2="772.70" stroke="#111" stroke-width="1.5"/>
<line x1="599.62" y1="768.50" x2="599.62" y2="772.70" stroke="#111" stroke-width="1.5"/>
<line x1="608.55" y1="768.50" x2="608.55" y2="772.70" stroke="#111" stroke-width="1.5"/>
<line x1="617.48" y1="768.50" x2="617.48" y2="772.70" stroke="#111" stroke-width="1.5"/>
<line x1="626.41" y1="768.50" x2="626.41" y2="772.70" stroke="#111" stroke-width="1.5"/>
<line x1="635.34" y1="768.50" x2="635.34" y2="772.70" stroke="#111" stroke-width="1.5"/>
<line x1="644.27" y1="768.50" x2="644.27" y2="772.70" stroke="#111" stroke-width="1.5"/>
<text x="519.25" y="807.60" font-family='"Liberation Serif", serif' font-size="11.7" font-weight="bold" font-style="normal" text-anchor="middle" fill="#111" >Frequency</text>
</svg>
</body></html>
